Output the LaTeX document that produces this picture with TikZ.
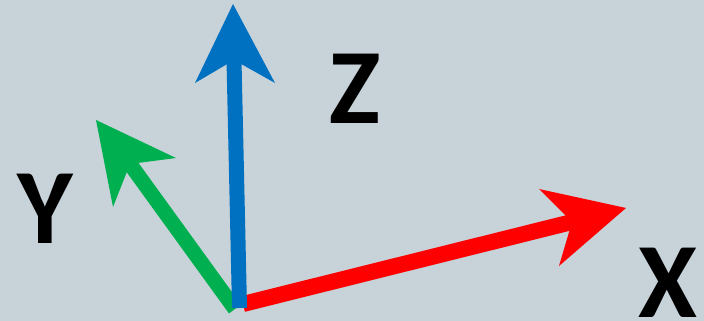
\documentclass[tikz,border=0pt]{standalone}
\usepackage{fontspec}
\setmainfont{Carlito}
\definecolor{bgc}{RGB}{199,210,217}
\definecolor{axblue}{RGB}{0,112,192}
\definecolor{axgreen}{RGB}{0,176,80}
\definecolor{axred}{RGB}{255,0,0}
\begin{document}
\begin{tikzpicture}[x=1pt,y=-1pt,
  lbl/.style={font=\bfseries\fontsize{107}{107}\selectfont, text=black, inner sep=0pt, text depth=0pt, anchor=base},
  shaft/.style={line width=#1, line cap=butt}]
\fill[bgc] (0,0) rectangle (704,321);
\useasboundingbox (0,0) rectangle (704,321);
% green (Y)
\coordinate (gt) at (235,309);
\coordinate (gn) at (130,164);
\draw[axgreen, shaft=15] (gt) -- (gn);
\fill[axgreen] (96,120) -- (176,158) -- (gn) -- (113,207) -- cycle;
% red (X)
\coordinate (rt) at (243,304);
\coordinate (rn) at (572,222);
\draw[axred, shaft=16] (rt) -- (rn);
\fill[axred] (626,208) -- (559,266) -- (rn) -- (539,189) -- cycle;
% blue (Z)
\coordinate (bt) at (239.5,308);
\coordinate (bn) at (234,60);
\draw[axblue, shaft=15] (bt) -- (bn);
\fill[axblue] (233,4) -- (275,83) -- (bn) -- (195,83) -- cycle;
% labels
\node[lbl] (z) at (355,123) {Z};
\node[lbl] (y) at (45.5,243) {Y};
\node[lbl] (x) at (667.5,317) {X};
\end{tikzpicture}
\end{document}
